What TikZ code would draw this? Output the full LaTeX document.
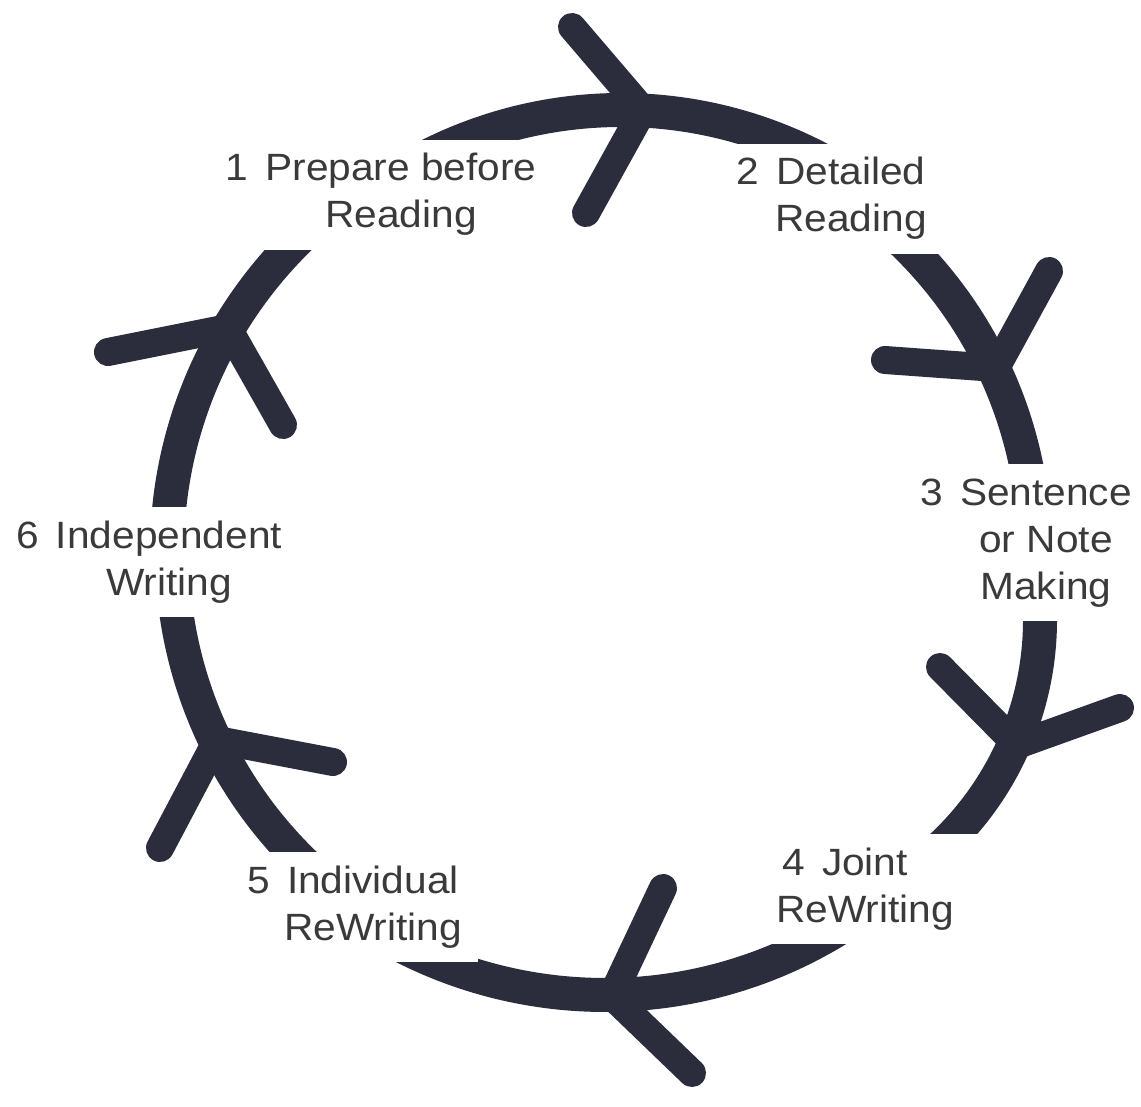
\documentclass[tikz,border=0pt]{standalone}
\usepackage{fontspec}
\setmainfont[FakeStretch=1.07]{Liberation Sans}

\definecolor{ringcol}{RGB}{43,45,61}
\definecolor{textcol}{RGB}{58,58,58}

\tikzset{
    ring/.style={draw=ringcol, line width=17pt},
    barb/.style={draw=ringcol, line width=14pt, line cap=round},
    stage/.style={fill=white, text=textcol, anchor=base, inner ysep=4pt,
        font=\fontsize{19}{23.5}\selectfont}
}
\newcommand{\stagenum}[1]{\llap{#1\hspace{0.45em}}}

\begin{document}
\begin{tikzpicture}[x=0.5pt, y=-0.5pt]
    \useasboundingbox[fill=white] (0,0) rectangle (1141,1107);
    % centres of the six arcs
    \coordinate (o12) at (621,538);
    \coordinate (o23) at (605,552);
    \coordinate (o34) at (730,620);
    \coordinate (o45) at (605,550);
    \coordinate (o56) at (605,552);
    \coordinate (o61) at (605,552);
    % the cycle, one arc per step
    \draw[ring] (o12) ++(-125:428) arc[start angle=-125, end angle=-60, radius=428];
    \draw[ring] (o23) ++(-52:430) arc[start angle=-52, end angle=0, radius=430];
    \draw[ring] (o34) ++(-12:310) arc[start angle=-12, end angle=55, radius=310];
    \draw[ring] (o45) ++(56.6:445) arc[start angle=56.6, end angle=128, radius=445];
    \draw[ring] (o56) ++(128:433) arc[start angle=128, end angle=177, radius=433];
    \draw[ring] (o61) ++(-178:438) arc[start angle=-178, end angle=-128, radius=438];

    % the six stages
    \node[stage, inner xsep=8pt] (prepare) at (401,181)
        {\begin{tabular}[t]{@{}c@{}}\stagenum{1}Prepare before\\Reading\end{tabular}};
    \node[stage, inner xsep=24pt] (detailed) at (851,185)
        {\begin{tabular}[t]{@{}c@{}}\stagenum{2}Detailed\\Reading\end{tabular}};
    \node[stage, inner xsep=4pt] (notes) at (1046,505)
        {\begin{tabular}[t]{@{}c@{}}\stagenum{3}Sentence\\or Note\\Making\end{tabular}};
    \node[stage, inner xsep=13pt] (joint) at (865,875)
        {\begin{tabular}[t]{@{}c@{}}\stagenum{4}Joint\\ReWriting\end{tabular}};
    \node[stage, inner xsep=8pt] (individual) at (373,893)
        {\begin{tabular}[t]{@{}c@{}}\stagenum{5}Individual\\ReWriting\end{tabular}};
    \node[stage, inner xsep=4pt] (independent) at (169,548)
        {\begin{tabular}[t]{@{}c@{}}\stagenum{6}Independent\\Writing\end{tabular}};

    % arrow heads: tip on the ring, two barbs
    \coordinate (t1) at (643,110);  \coordinate (b1) at (572,27);   \coordinate (c1) at (586,213);
    \coordinate (t2) at (996,368);  \coordinate (b2) at (1049,271); \coordinate (c2) at (885,360);
    \coordinate (t3) at (1017,745); \coordinate (b3) at (940,667);  \coordinate (c3) at (1120,708);
    \coordinate (t4) at (612,996);  \coordinate (b4) at (663,888);  \coordinate (c4) at (692,1073);
    \coordinate (t5) at (217,740);  \coordinate (b5) at (333,762);  \coordinate (c5) at (160,848);
    \coordinate (t6) at (228,328);  \coordinate (b6) at (108,352);  \coordinate (c6) at (283,425);
    \foreach \i in {1,...,6}
        \draw[barb] (b\i) -- (t\i) (c\i) -- (t\i);
\end{tikzpicture}
\end{document}
